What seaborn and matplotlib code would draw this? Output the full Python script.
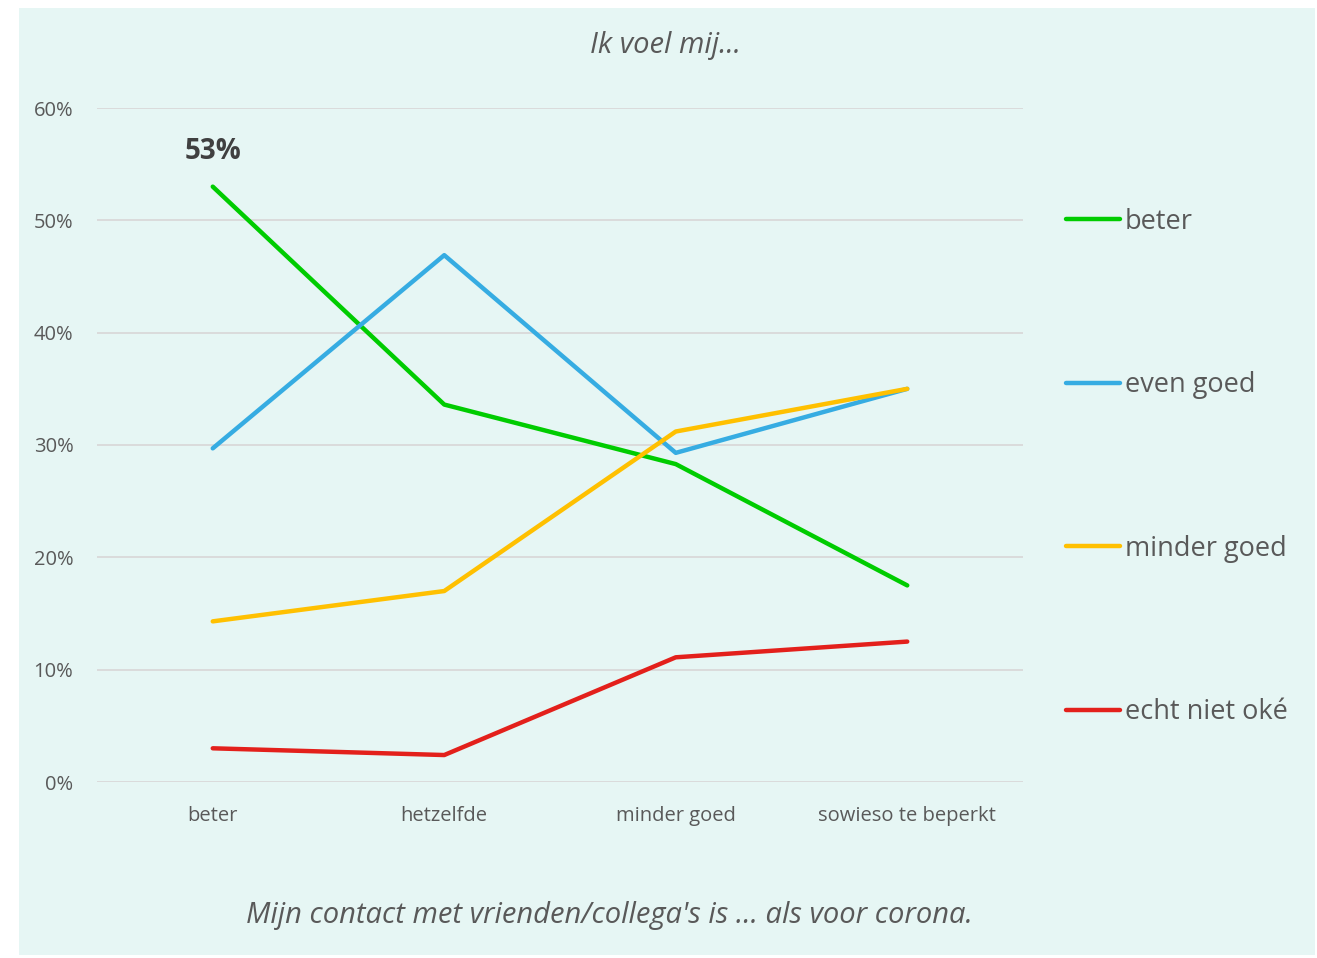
import pandas as pd
import seaborn as sns
import matplotlib.pyplot as plt
from matplotlib.patches import Rectangle
from matplotlib.ticker import PercentFormatter

sns.set_theme(style="white")
plt.rcParams["font.family"] = ["Open Sans", "DejaVu Sans"]

categories = ["beter", "hetzelfde", "minder goed", "sowieso te beperkt"]
series_names = ["beter", "even goed", "minder goed", "echt niet oké"]
beter = [53.0, 33.6, 28.3, 17.5]
even_goed = [29.7, 46.9, 29.3, 35.0]
minder_goed = [14.3, 17.0, 31.2, 35.0]
echt_niet_oke = [3.0, 2.4, 11.1, 12.5]
colors = ["#00CC00", "#36ACE2", "#FFC000", "#E3201B"]

rows = []
for name, vals in zip(series_names, [beter, even_goed, minder_goed, echt_niet_oke]):
    for i, v in enumerate(vals):
        rows.append({"pos": i, "cat": categories[i], "serie": name, "val": v})
df = pd.DataFrame(rows)

W, H = 1317, 958
fig = plt.figure(figsize=(W / 100, H / 100), dpi=100, facecolor="white")
fig.patches.append(Rectangle((19 / W, 3 / H), (1315 - 19) / W, (950 - 3) / H,
                             transform=fig.transFigure, facecolor="#E6F6F4",
                             edgecolor="none", zorder=-10))

ax = fig.add_axes([97 / W, 1 - 782 / H, (1023 - 97) / W, (782 - 108) / H])
ax.set_zorder(2)
ax.set_facecolor("none")

sns.lineplot(data=df, x="pos", y="val", hue="serie", hue_order=series_names,
             palette=colors, linewidth=3.2, ax=ax, solid_capstyle="round")

ax.set_xlim(-0.5, 3.5)
ax.set_ylim(0, 60)
ax.set_yticks(range(0, 61, 10))
ax.yaxis.set_major_formatter(PercentFormatter(decimals=0))
ax.set_xticks(range(4))
ax.set_xticklabels(categories)
ax.tick_params(axis="both", length=0, labelsize=14.5, labelcolor="#595959")
ax.tick_params(axis="y", pad=17)
ax.tick_params(axis="x", pad=17)
ax.grid(axis="y", color="#D9D9D9", linewidth=1.3)
ax.set_axisbelow(True)
for s in ax.spines.values():
    s.set_visible(False)
ax.set_xlabel("")
ax.set_ylabel("")

ax.text(0, beter[0] + 3.1, f"{beter[0]:.0f}%", ha="center", va="center",
        fontsize=20, fontweight="bold", color="#404040", clip_on=False)

fig.text(665 / W, 1 - 45 / H, "Ik voel mij...", ha="center", va="center",
         fontsize=21, style="italic", color="#595959")
fig.text(609 / W, 1 - 916 / H, "Mijn contact met vrienden/collega's is … als voor corona.",
         ha="center", va="center", fontsize=21, style="italic", color="#595959")

leg = ax.legend(loc="center left", bbox_to_anchor=(1066 / W, 1 - 467 / H),
                bbox_transform=fig.transFigure, frameon=False, fontsize=19.5,
                handlelength=2.0, handletextpad=0.18, labelspacing=5.0,
                borderpad=0, borderaxespad=0)
for t in leg.get_texts():
    t.set_color("#595959")
for line in leg.get_lines():
    line.set_linewidth(3.2)

fig.savefig("out.png", dpi=100, facecolor="white")
